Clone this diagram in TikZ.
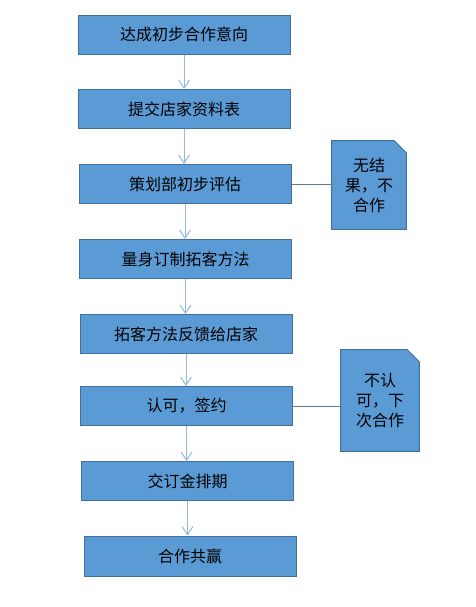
\documentclass[tikz,border=0pt]{standalone}
\usepackage{fontspec}
\newfontfamily\cjk{Noto Sans CJK SC}
\usetikzlibrary{arrows.meta,backgrounds}
\definecolor{boxblue}{RGB}{91,155,213}
\definecolor{edgeblue}{RGB}{65,113,156}
\definecolor{arrowblue}{RGB}{150,185,225}

\begin{document}
\begin{tikzpicture}[x=0.75pt,y=-0.75pt,
	flowbox/.style={draw=edgeblue,line width=0.75pt,fill=boxblue,minimum width=159pt,minimum height=29.25pt,inner sep=0pt,font=\cjk\fontsize{12}{14}\selectfont},
	notebox/.style={minimum width=#1,inner sep=0pt,align=center,font=\cjk\fontsize{12}{15}\selectfont},
	flowarrow/.style={draw=arrowblue,line width=0.75pt,-{Straight Barb[length=6pt,width=8pt]}}]
\useasboundingbox (0,0) rectangle (475,607);
% main steps
\node[flowbox] (b1) at (184,34.5) {达成初步合作意向};
\node[flowbox] (b2) at (184,109) {提交店家资料表};
\node[flowbox] (b3) at (185,184) {策划部初步评估};
\node[flowbox] (b4) at (185.5,259) {量身订制拓客方法};
\node[flowbox] (b5) at (186,334) {拓客方法反馈给店家};
\node[flowbox] (b6) at (186.5,406) {认可，签约};
\node[flowbox] (b7) at (187.5,481) {交订金排期};
\node[flowbox,minimum height=30pt] (b8) at (190,556) {合作共赢};
% side notes
\node[notebox=55.5pt,minimum height=66pt] (no1) at (369,185) {无结\\果，不\\合作};
\node[notebox=58.5pt,minimum height=75.75pt] (no2) at (380,400.5) {不认\\可，下\\次合作};
\begin{pgfonlayer}{background}
\fill[white] (0,0) rectangle (475,607);
\foreach \n in {no1,no2}
	\draw[edgeblue,line width=0.75pt,fill=boxblue] (\n.south west) -- (\n.north west) -- ([xshift=-9pt]\n.north east)
		-- ([yshift=-9pt]\n.north east) -- (\n.south east) -- cycle;
\end{pgfonlayer}
\foreach \a/\b in {b1/b2,b2/b3,b3/b4,b4/b5,b5/b6,b6/b7,b7/b8}
	\draw[flowarrow] (\a.south) -- (\a.south |- \b.north);
\draw[edgeblue!90,line width=0.75pt] (b3.east) -- (b3.east -| no1.west);
\draw[edgeblue!90,line width=0.75pt] (b6.east) -- (b6.east -| no2.west);
\end{tikzpicture}
\end{document}
